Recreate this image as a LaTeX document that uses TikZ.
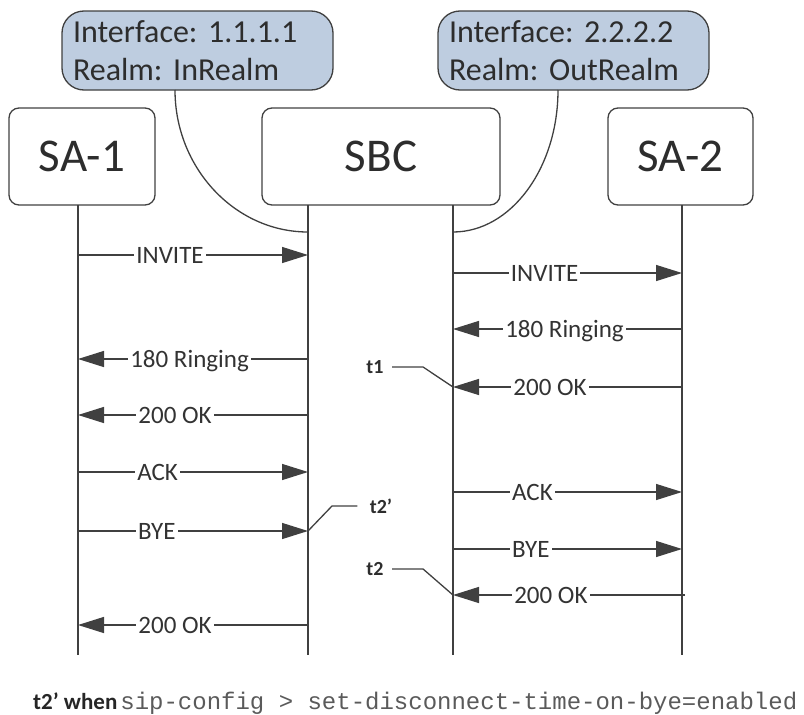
\documentclass[tikz,border=0pt]{standalone}
\usepackage{fontspec}
\setmainfont{Carlito}
\newfontfamily\cmdfont{Liberation Mono}
\usetikzlibrary{arrows.meta}
\frenchspacing

\definecolor{ink}{RGB}{64,64,64}
\definecolor{realmblue}{RGB}{190,205,224}
\definecolor{cmdgray}{RGB}{90,90,90}

\tikzstyle{entity} = [rectangle, draw=ink, line width=1.3pt, rounded corners=10pt, minimum height=97pt, font=\fontsize{47}{56}\selectfont, text=ink!70!black]
\tikzstyle{realm} = [rectangle, draw=ink, fill=realmblue, line width=1.3pt, rounded corners=22pt, minimum height=79pt, text width=249pt, inner xsep=11pt, align=left, font=\fontsize{32}{38}\selectfont, text=ink!70!black]
\tikzstyle{life} = [draw=ink, line width=1.3pt]
\tikzstyle{msgline} = [draw=ink, line width=1.3pt, -{Triangle[length=26pt,width=16pt]}]
\tikzstyle{lbl} = [fill=white, inner xsep=2pt, inner ysep=0pt, text height=16pt, text depth=0pt, font=\fontsize{25}{30}\selectfont, text=ink!80!black]
\tikzstyle{tmark} = [font=\bfseries\fontsize{20}{24}\selectfont, text=ink!70!black]

% one message between two lifelines
\newcommand{\sipmsg}[6]{%
  \coordinate (#1s) at (#2,#4);
  \coordinate (#1e) at (#3,#4);
  \draw[msgline] (#1s) -- node[lbl, pos=#5] (#1l) {#6} (#1e);
}

\begin{document}
\begin{tikzpicture}[x=1pt, y=-1pt]
        \useasboundingbox (0,0) rectangle (804,715);
        % entities
        \node (sa1) at (82,156.5) [entity, minimum width=146pt] {SA-1};
        \node (sbc) at (381,156.5) [entity, minimum width=238pt] {SBC};
        \node (sa2) at (680.5,156.5) [entity, minimum width=145pt] {SA-2};
        % realm boxes
        \node (inrealm) at (197.5,50.5) [realm] {Interface: 1.1.1.1\\Realm: InRealm};
        \node (outrealm) at (573.5,50.5) [realm] {Interface: 2.2.2.2\\Realm: OutRealm};
        % lifelines
        \coordinate (sa1top) at (78,205);   \coordinate (sa1bot) at (78,655);
        \coordinate (sbcltop) at (308,205); \coordinate (sbclbot) at (308,655);
        \coordinate (sbcrtop) at (453,205); \coordinate (sbcrbot) at (453,655);
        \coordinate (sa2top) at (682,205);  \coordinate (sa2bot) at (682,655);
        \draw[life] (sa1top) -- (sa1bot);
        \draw[life] (sbcltop) -- (sbclbot);
        \draw[life] (sbcrtop) -- (sbcrbot);
        \draw[life] (sa2top) -- (sa2bot);
        % realm links
        \coordinate (intail) at (175,90);  \coordinate (inhead) at (308,232);
        \coordinate (outtail) at (558,90); \coordinate (outhead) at (453,232);
        \draw[life] (intail) .. controls (175,168) and (235,232) .. (inhead);
        \draw[life] (outtail) .. controls (558,168) and (511,232) .. (outhead);
        % messages
        \sipmsg{ma}{78}{308}{255}{0.40}{INVITE}
        \sipmsg{mb}{453}{682}{273}{0.40}{INVITE}
        \sipmsg{mc}{682}{453}{329}{0.513}{180 Ringing}
        \sipmsg{md}{308}{78}{359}{0.515}{180 Ringing}
        \sipmsg{me}{682}{453}{387}{0.576}{200 OK}
        \sipmsg{mf}{308}{78}{415}{0.578}{200 OK}
        \sipmsg{mg}{78}{308}{472}{0.346}{ACK}
        \sipmsg{mh}{453}{682}{492}{0.347}{ACK}
        \sipmsg{mi}{78}{308}{531}{0.343}{BYE}
        \sipmsg{mj}{453}{682}{549}{0.34}{BYE}
        \sipmsg{mk}{685}{453}{595}{0.578}{200 OK}
        \sipmsg{ml}{308}{78}{625}{0.578}{200 OK}
        % time marks
        \node (t1) at (375,367) [tmark] {t1};
        \draw[life] ([xshift=5pt]t1.east) -- +(31,0) -- (mee);
        \node (t2) at (375,569) [tmark] {t2};
        \draw[life] ([xshift=5pt]t2.east) -- +(31,0) -- (mke);
        \node (t2p) at (381,506) [tmark] {t2'};
        \draw[life] (mie) -- (332,506) -- ([xshift=-9pt]t2p.west);
        % footnote
        \node (note) at (33,709) [anchor=base west, inner sep=0pt, text=black!85] {{\bfseries\fontsize{23}{28}\selectfont t2' when}\hspace{3pt}{\cmdfont\fontsize{24}{28}\selectfont\color{cmdgray}sip-config > set-disconnect-time-on-bye=enabled}};
\end{tikzpicture}
\end{document}
